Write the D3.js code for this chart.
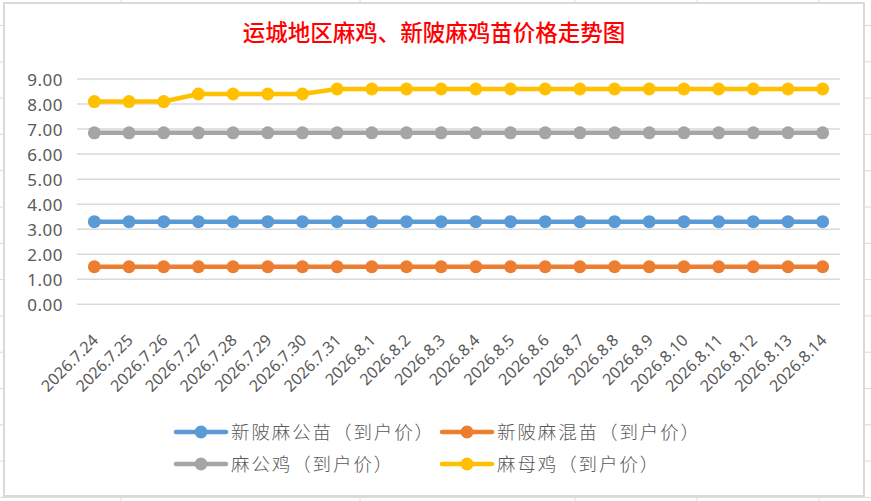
<!DOCTYPE html>
<html>
<head>
<meta charset="utf-8">
<script src="https://cdn.jsdelivr.net/npm/d3@7/dist/d3.min.js"></script>
<style>
html,body{margin:0;padding:0;background:#fff;}
svg{display:block;}
</style>
</head>
<body>
<svg id="chart" width="871" height="501"></svg>
<script>
const title = "运城地区麻鸡、新陂麻鸡苗价格走势图";
const categories = ["2026.7.24","2026.7.25","2026.7.26","2026.7.27","2026.7.28","2026.7.29","2026.7.30","2026.7.31","2026.8.1","2026.8.2","2026.8.3","2026.8.4","2026.8.5","2026.8.6","2026.8.7","2026.8.8","2026.8.9","2026.8.10","2026.8.11","2026.8.12","2026.8.13","2026.8.14"];
const seriesNames = ["新陂麻公苗（到户价）","新陂麻混苗（到户价）","麻公鸡（到户价）","麻母鸡（到户价）"];
const seriesColors = ["#5B9BD5","#ED7D31","#A5A5A5","#FFC000"];
const maleChickValues = [3.3,3.3,3.3,3.3,3.3,3.3,3.3,3.3,3.3,3.3,3.3,3.3,3.3,3.3,3.3,3.3,3.3,3.3,3.3,3.3,3.3,3.3];
const mixedChickValues = [1.5,1.5,1.5,1.5,1.5,1.5,1.5,1.5,1.5,1.5,1.5,1.5,1.5,1.5,1.5,1.5,1.5,1.5,1.5,1.5,1.5,1.5];
const roosterValues = [6.85,6.85,6.85,6.85,6.85,6.85,6.85,6.85,6.85,6.85,6.85,6.85,6.85,6.85,6.85,6.85,6.85,6.85,6.85,6.85,6.85,6.85];
const henValues = [8.1,8.1,8.1,8.4,8.4,8.4,8.4,8.6,8.6,8.6,8.6,8.6,8.6,8.6,8.6,8.6,8.6,8.6,8.6,8.6,8.6,8.6];
const yTicks = [0,1,2,3,4,5,6,7,8,9];
const seriesValues = [maleChickValues, mixedChickValues, roosterValues, henValues];

const svg = d3.select("#chart");
const W = 871, H = 501;

// spreadsheet cell grid behind the chart
const colLines = [121, 360, 575, 697, 819];
const rowLines = d3.range(0, 14).map(i => 25.5 + i * 36.3);
const bg = svg.append("g");
bg.selectAll("line.col").data(colLines).join("line")
  .attr("x1", d => d).attr("x2", d => d).attr("y1", 0).attr("y2", H)
  .attr("stroke", "#dadada").attr("stroke-width", 1);
bg.selectAll("line.row").data(rowLines).join("line")
  .attr("x1", 0).attr("x2", W).attr("y1", d => d).attr("y2", d => d)
  .attr("stroke", "#dadada").attr("stroke-width", 1);

// chart area
svg.append("rect").attr("x", 4).attr("y", 3).attr("width", 860).attr("height", 493)
  .attr("fill", "#fff").attr("stroke", "#d9d9d9").attr("stroke-width", 2);

svg.append("text").attr("x", 434).attr("y", 41).attr("text-anchor", "middle")
  .attr("fill", "#FF0000").attr("font-family", "'Noto Sans CJK SC'")
  .attr("font-weight", 500).attr("font-size", 22.5).text(title);

const plotL = 77, plotR = 840, plotT = 79, plotB = 304.3;
const x = d3.scaleBand().domain(categories).range([plotL, plotR]);
const y = d3.scaleLinear().domain([0, 9]).range([plotB, plotT]);

// gridlines
svg.append("g").selectAll("line").data(yTicks).join("line")
  .attr("x1", plotL).attr("x2", plotR).attr("y1", d => y(d)).attr("y2", d => y(d))
  .attr("stroke", "#d9d9d9").attr("stroke-width", 1.5);

// y axis
const yAxis = d3.axisLeft(y).tickValues(yTicks).tickFormat(d3.format(".2f")).tickSize(0).tickPadding(0);
const yg = svg.append("g").attr("transform", `translate(63,0)`).call(yAxis);
yg.select(".domain").remove();
yg.selectAll("text").attr("fill", "#595959").attr("font-family", "'Noto Sans', sans-serif")
  .attr("font-size", 17).attr("letter-spacing", 0.5).attr("dy", "0.36em");

// x axis labels
const xAxis = d3.axisBottom(x).tickSize(0).tickPadding(0);
const xg = svg.append("g").attr("transform", `translate(0,${plotB})`).call(xAxis);
xg.select(".domain").remove();
xg.selectAll("text")
  .attr("fill", "#595959").attr("font-family", "'Noto Sans', sans-serif").attr("font-size", 16)
  .attr("text-anchor", "end").attr("dy", 0).attr("y", 0)
  .attr("transform", "translate(5,37) rotate(-45)");

// lines & markers
const line = d3.line().x((d, i) => x(categories[i]) + x.bandwidth() / 2).y(d => y(d));
seriesValues.forEach((vals, si) => {
  svg.append("path").datum(vals).attr("d", line).attr("fill", "none")
    .attr("stroke", seriesColors[si]).attr("stroke-width", 4.5).attr("stroke-linejoin", "round");
  svg.append("g").selectAll("circle").data(vals).join("circle")
    .attr("cx", (d, i) => x(categories[i]) + x.bandwidth() / 2).attr("cy", d => y(d))
    .attr("r", 6.5).attr("fill", seriesColors[si]);
});

// legend
const legendPos = [[176, 432], [442, 432], [176, 464], [442, 464]];
seriesNames.forEach((name, i) => {
  const [lx, ly] = legendPos[i];
  const g = svg.append("g");
  g.append("line").attr("x1", lx).attr("x2", lx + 50).attr("y1", ly).attr("y2", ly)
    .attr("stroke", seriesColors[i]).attr("stroke-width", 4.5).attr("stroke-linecap", "round");
  g.append("circle").attr("cx", lx + 25).attr("cy", ly).attr("r", 6.5).attr("fill", seriesColors[i]);
  g.append("text").attr("x", lx + 55).attr("y", ly).attr("dy", "0.36em")
    .attr("fill", "#595959").attr("font-family", "'Noto Sans CJK SC'").attr("font-weight", 300)
    .attr("font-size", 18.5).attr("letter-spacing", 1.9).text(name);
});
</script>
</body>
</html>
